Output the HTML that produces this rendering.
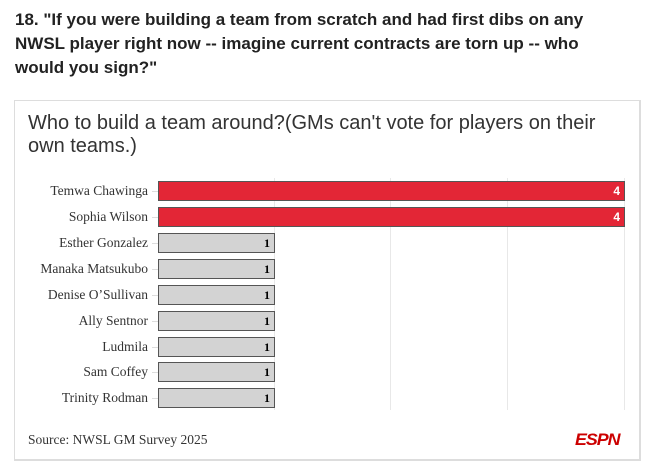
<!DOCTYPE html>
<html><head><style>
body{margin:0;width:660px;height:470px;background:#fff;overflow:hidden;font-family:"Liberation Sans",sans-serif;}
.h{position:absolute;left:15px;top:8px;width:610px;font-weight:bold;font-size:17px;line-height:24px;color:#222;}
.box{position:absolute;left:14px;top:100px;width:627px;height:361px;border:1px solid #ddd;border-right:2px solid #ddd;border-bottom:2px solid #ddd;box-sizing:border-box;}
.t{position:absolute;left:28px;top:112px;width:600px;font-size:20px;line-height:23px;color:#333;}
.l{position:absolute;right:512px;font-family:"Liberation Serif",serif;font-size:13.5px;color:#333;line-height:14px;}
.b{position:absolute;left:158px;height:20px;box-sizing:border-box;border:1px solid #555;}
.r{background:#e32636;width:467px;}
.g{background:#d3d3d3;width:117px;}
.v{position:absolute;right:4px;top:2px;font-size:12px;font-weight:bold;}
.gl{position:absolute;top:178px;height:232px;width:1px;background:#e8e8e8;}
.tk{position:absolute;left:152px;width:6px;height:1px;background:#ddd;}
</style></head><body>
<div class="h">18. "If you were building a team from scratch and had first dibs on any NWSL player right now -- imagine current contracts are torn up -- who would you sign?"</div>
<div class="box"></div>
<div class="t">Who to build a team around?(GMs can't vote for players on their own teams.)</div>
<div class="gl" style="left:274px"></div><div class="gl" style="left:390px"></div><div class="gl" style="left:507px"></div><div class="gl" style="left:624px"></div>
<div class="l" style="top:184px">Temwa Chawinga</div><div class="tk" style="top:191px"></div>
<div class="b r" style="top:181px"><span class="v" style="color:#fff">4</span></div>
<div class="l" style="top:210px">Sophia Wilson</div><div class="tk" style="top:217px"></div>
<div class="b r" style="top:207px"><span class="v" style="color:#fff">4</span></div>
<div class="l" style="top:236px">Esther Gonzalez</div><div class="tk" style="top:243px"></div>
<div class="b g" style="top:233px"><span class="v" style="font-family:'Liberation Serif',serif">1</span></div>
<div class="l" style="top:262px">Manaka Matsukubo</div><div class="tk" style="top:269px"></div>
<div class="b g" style="top:259px"><span class="v" style="font-family:'Liberation Serif',serif">1</span></div>
<div class="l" style="top:288px">Denise O’Sullivan</div><div class="tk" style="top:295px"></div>
<div class="b g" style="top:285px"><span class="v" style="font-family:'Liberation Serif',serif">1</span></div>
<div class="l" style="top:314px">Ally Sentnor</div><div class="tk" style="top:321px"></div>
<div class="b g" style="top:311px"><span class="v" style="font-family:'Liberation Serif',serif">1</span></div>
<div class="l" style="top:340px">Ludmila</div><div class="tk" style="top:347px"></div>
<div class="b g" style="top:337px"><span class="v" style="font-family:'Liberation Serif',serif">1</span></div>
<div class="l" style="top:365px">Sam Coffey</div><div class="tk" style="top:372px"></div>
<div class="b g" style="top:362px"><span class="v" style="font-family:'Liberation Serif',serif">1</span></div>
<div class="l" style="top:391px">Trinity Rodman</div><div class="tk" style="top:398px"></div>
<div class="b g" style="top:388px"><span class="v" style="font-family:'Liberation Serif',serif">1</span></div>
<div style="position:absolute;left:28px;top:432px;font-family:'Liberation Serif',serif;font-size:13.5px;color:#333">Source: NWSL GM Survey 2025</div>
<div style="position:absolute;left:575px;top:430px;font-size:17px;font-weight:bold;font-style:italic;color:#c00;letter-spacing:-1px;transform:scaleX(1.05);transform-origin:left">ESPN</div>
</body></html>
